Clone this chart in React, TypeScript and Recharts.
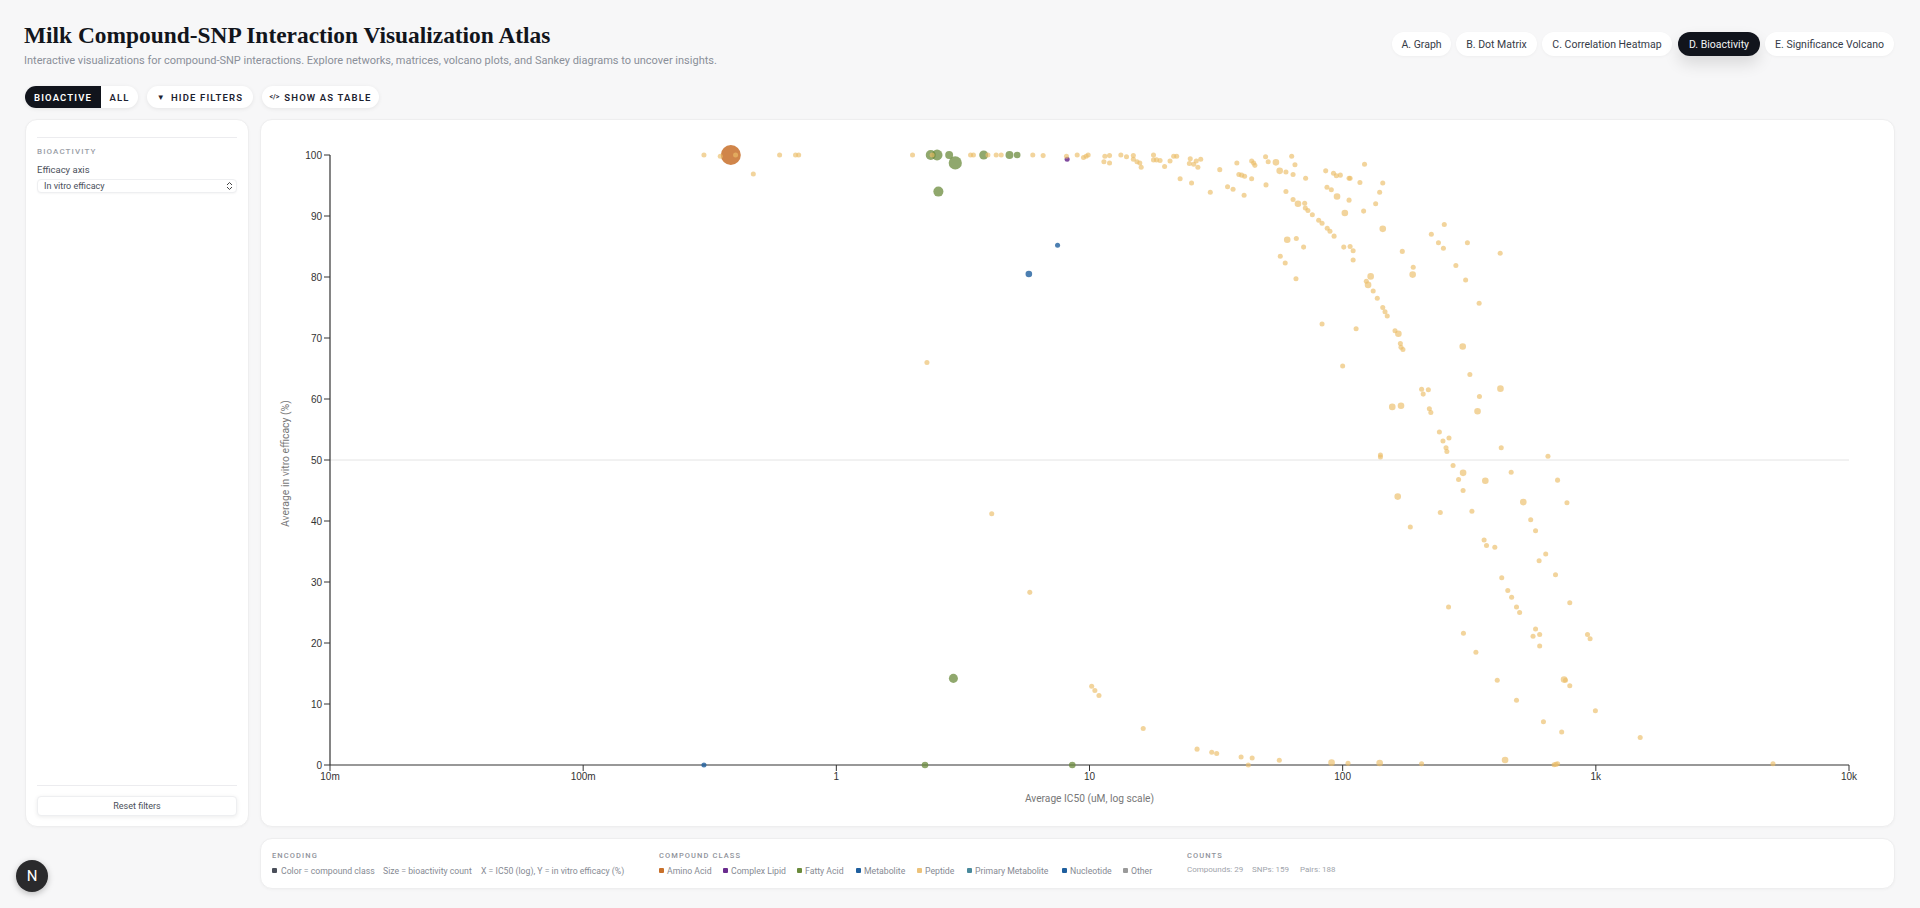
import { CSSProperties } from "react";
import {
  ScatterChart,
  Scatter,
  XAxis,
  YAxis,
  ZAxis,
  ReferenceLine,
} from "recharts";

const UI = "'Roboto', 'Noto Sans', sans-serif";

// [IC50 uM, in vitro efficacy %, bioactivity count]
const aminoAcidPoints = [[0.383, 100, 21]];
const complexLipidPoints = [[8.16, 99.3, 1]];
const fattyAcidPoints = [
  [2.36, 100, 5],
  [2.5, 100, 6],
  [2.79, 100, 3],
  [2.95, 98.7, 9],
  [2.53, 94, 5],
  [3.82, 100, 4],
  [4.83, 100, 3],
  [5.18, 100, 2],
  [2.9, 14.2, 4],
  [2.24, 0, 2],
  [8.55, 0, 2],
];
const metabolitePoints = [
  [5.76, 80.5, 2],
  [7.48, 85.2, 1],
];
const nucleotidePoints = [[0.3, 0, 1]];
const peptidePoints = [
  [0.3, 100, 1], [0.348, 99.8, 1], [0.4, 100, 1], [0.47, 96.9, 1], [0.597, 100, 1],
  [0.69, 100, 1], [0.71, 100, 1], [2.0, 100, 1], [2.39, 100, 1], [3.39, 100, 1],
  [3.48, 100, 1], [3.97, 100, 1], [4.28, 100, 1], [4.48, 100, 1], [5.97, 100, 1],
  [6.56, 99.9, 1], [8.11, 99.8, 1], [8.94, 100, 1], [9.47, 99.6, 1], [9.7, 99.8, 1],
  [9.88, 100, 1], [11.5, 99.8, 1], [12, 99.9, 1], [11.4, 98.9, 1], [12, 98.7, 1],
  [13.3, 100, 1], [14, 99.7, 1], [14.9, 99.9, 1], [14.9, 99.3, 1], [15.4, 98.9, 1],
  [15.8, 98.7, 1], [16, 98, 1], [17.9, 100, 1], [17.9, 99.2, 1], [18.4, 99.2, 1],
  [19, 99.1, 1], [19.8, 98.1, 1], [20.8, 99, 1], [21.5, 99.8, 1], [22.1, 99.8, 1],
  [22.8, 96.1, 1], [25.3, 95.4, 1], [25, 99.4, 1], [24.8, 98.6, 1], [25.8, 98.5, 1],
  [26.4, 99, 1], [27.5, 99.3, 1], [26.8, 98, 1], [30, 93.9, 1], [32.7, 97.6, 1],
  [38.2, 98.7, 1], [35.1, 94.8, 1], [36.9, 94.4, 1], [40.8, 93.4, 1], [38.9, 96.8, 1],
  [39.9, 96.7, 1], [41, 96.5, 1], [43.7, 96.1, 1], [43.7, 99, 1], [44.5, 98.7, 1],
  [45, 98.3, 1], [49.6, 99.7, 1], [50.8, 98.9, 1], [54.5, 98.8, 2], [56.4, 97.4, 2],
  [59.7, 97.2, 1], [63.7, 96.8, 1], [62.9, 99.8, 1], [64.8, 98.4, 1], [71.4, 96.2, 1],
  [49.8, 95.1, 1], [59.7, 94, 1], [63.7, 92.7, 1], [66.6, 92, 2], [70.8, 92.1, 1],
  [71.2, 91.3, 1], [72.9, 90.9, 1], [75.9, 90.2, 1], [80.4, 89.3, 1], [82.9, 88.8, 1],
  [86.9, 88, 1], [89.1, 87.5, 1], [92.5, 86.7, 1], [85.7, 97.4, 1], [92, 97, 1],
  [94.4, 96.6, 1], [97.9, 96.7, 1], [106, 96.2, 1], [107, 96.2, 1], [122, 98.5, 1],
  [117, 95.5, 1], [86.7, 94.7, 1], [90.2, 94.3, 1], [95, 93.2, 2], [106, 92.6, 1],
  [102, 90.5, 2], [121, 90.8, 1], [135, 92, 1], [140, 93.9, 1], [144, 95.4, 1],
  [144, 87.9, 2], [60.4, 86.1, 2], [65.6, 86.3, 1], [70.1, 84.9, 1], [56.7, 83.4, 1],
  [59.3, 82.3, 1], [65.4, 79.7, 1], [101, 84.9, 1], [107, 85, 1], [110, 84.3, 1],
  [110, 82.8, 1], [129, 80.1, 2], [124, 79.3, 1], [126, 78.7, 2], [132, 77.7, 1],
  [137, 76.5, 1], [144, 75, 1], [147, 74.3, 1], [150, 73.6, 1], [172, 84.2, 1],
  [190, 81.6, 1], [189, 80.4, 2], [224, 87, 1], [252, 88.6, 1], [239, 85.6, 1],
  [250, 84.7, 1], [311, 85.6, 1], [419, 83.9, 1], [280, 81.9, 1], [306, 79.5, 1],
  [346, 75.7, 1], [82.9, 72.3, 1], [113, 71.5, 1], [161, 71.2, 1], [166, 70.7, 2],
  [169, 69.1, 1], [170, 68.5, 1], [173, 68.1, 1], [298, 68.6, 2], [100, 65.4, 1],
  [318, 64, 1], [420, 61.7, 2], [205, 61.6, 1], [218, 61.5, 1], [208, 60.8, 1],
  [347, 60.4, 1], [157, 58.7, 2], [170, 58.9, 2], [341, 58, 2], [220, 58.4, 1],
  [223, 57.8, 1], [241, 54.6, 1], [263, 53.6, 1], [249, 53.1, 1], [256, 52, 1],
  [258, 51.4, 1], [423, 52, 1], [141, 50.8, 1], [141, 50.5, 1], [647, 50.6, 1],
  [273, 49.1, 1], [299, 47.9, 2], [287, 46.8, 1], [463, 48, 1], [366, 46.6, 2],
  [706, 46.7, 1], [299, 45, 1], [165, 44, 2], [517, 43.1, 2], [769, 43, 1],
  [243, 41.4, 1], [324, 41.6, 1], [553, 40.2, 1], [578, 38.4, 1], [185, 39, 1],
  [362, 36.9, 1], [370, 36, 1], [399, 35.7, 1], [634, 34.6, 1], [597, 33.5, 1],
  [693, 31.2, 1], [425, 30.7, 1], [449, 28.6, 1], [465, 27.5, 1], [486, 25.9, 1],
  [500, 25, 1], [789, 26.6, 1], [262, 25.9, 1], [300, 21.6, 1], [336, 18.5, 1],
  [578, 22.3, 1], [565, 21.1, 1], [600, 21.4, 1], [600, 19.5, 1], [927, 21.4, 1],
  [949, 20.7, 1], [408, 13.9, 1], [749, 14, 2], [759, 13.9, 1], [789, 13, 1],
  [486, 10.6, 1], [996, 8.9, 1], [621, 7.1, 1], [733, 5.4, 1], [1497, 4.5, 1],
  [2.28, 66, 1], [4.11, 41.2, 1], [5.81, 28.3, 1], [10.2, 12.9, 1], [10.5, 12.2, 1],
  [10.9, 11.4, 1], [16.3, 6, 1], [26.6, 2.6, 1], [30.4, 2.1, 1], [31.8, 1.9, 1],
  [39.7, 1.3, 1], [42.4, 0, 1], [43.9, 1.15, 1], [56.2, 0.77, 1], [90.4, 0.38, 2],
  [105, 0.27, 1], [140, 0.33, 2], [205, 0.2, 1], [438, 0.82, 2], [684, 0.05, 1],
  [695, 0.1, 1], [706, 0.2, 1], [5010, 0.2, 1],
];

const xTicks = [0.01, 0.1, 1, 10, 100, 1000, 10000];
const xTickLabels = ["10m", "100m", "1", "10", "100", "1k", "10k"];
const yTicks = [0, 10, 20, 30, 40, 50, 60, 70, 80, 90, 100];

const classNames = ["Amino Acid", "Complex Lipid", "Fatty Acid", "Metabolite", "Peptide", "Primary Metabolite", "Nucleotide", "Other"];
const classColors = ["#c8702a", "#6a2c8e", "#6b8b3c", "#1f5f9e", "#ecc27a", "#4a8a9c", "#1f5f9e", "#9a9a9a"];
const classLegendX = [659, 723, 797, 856, 917, 967, 1062, 1123];
const tabNames = ["A. Graph", "B. Dot Matrix", "C. Correlation Heatmap", "D. Bioactivity", "E. Significance Volcano"];
const tabLefts = [1392, 1456, 1542, 1678, 1765];
const tabWidths = [59, 81, 130, 82, 129];

const toRows = (points: number[][]) => points.map(([ic50, efficacy, count]) => ({ ic50, efficacy, count }));

const box = (left: number, top: number, width: number, height: number, extra: CSSProperties = {}): CSSProperties => ({
  position: "absolute",
  left,
  top,
  width,
  height,
  boxSizing: "border-box",
  ...extra,
});

const panel: CSSProperties = {
  background: "#fff",
  border: "1px solid #eeeeef",
  borderRadius: 12,
  boxShadow: "0 1px 3px rgba(0,0,0,0.03)",
};

const pill: CSSProperties = {
  background: "#fff",
  borderRadius: 12,
  boxShadow: "0 1px 4px rgba(0,0,0,0.08)",
  display: "flex",
  alignItems: "center",
  justifyContent: "center",
  whiteSpace: "nowrap",
};

const label = (left: number, top: number, text: string, size: number, color: string, extra: CSSProperties = {}) => (
  <div style={{ position: "absolute", left, top, fontSize: size, lineHeight: "12px", color, whiteSpace: "nowrap", ...extra }}>{text}</div>
);

const caps: CSSProperties = { letterSpacing: 1.1, fontWeight: 500 };
const btnText: CSSProperties = { fontSize: 9.5, fontWeight: 600, letterSpacing: 1.15, color: "#1c2230" };

export default function App() {
  return (
    <div style={box(0, 0, 1920, 908, { background: "#f7f7f8", fontFamily: UI, overflow: "hidden" })}>
      <div style={{ position: "absolute", left: 24, top: 20, fontFamily: "'Liberation Serif', serif", fontWeight: 700, fontSize: 23.4, lineHeight: "30px", color: "#12151c", whiteSpace: "nowrap" }}>
        Milk Compound-SNP Interaction Visualization Atlas
      </div>
      {label(24, 55, "Interactive visualizations for compound-SNP interactions. Explore networks, matrices, volcano plots, and Sankey diagrams to uncover insights.", 11, "#8a8f99")}

      {tabNames.map((name, i) => (
        <div
          key={name}
          style={box(tabLefts[i], 32, tabWidths[i], 24, {
            ...pill,
            fontSize: 10.5,
            background: i === 3 ? "#11141c" : "#fff",
            color: i === 3 ? "#f2f3f5" : "#353b47",
            boxShadow: i === 3 ? "0 8px 16px rgba(0,0,0,0.12)" : "0 1px 3px rgba(0,0,0,0.04)",
          })}
        >
          {name}
        </div>
      ))}

      <div style={box(25, 86, 113, 22, { ...pill, overflow: "hidden", justifyContent: "flex-start" })}>
        <div style={{ ...btnText, width: 76, height: 22, background: "#11141c", color: "#fff", display: "flex", alignItems: "center", justifyContent: "center" }}>BIOACTIVE</div>
        <div style={{ ...btnText, width: 37, textAlign: "center" }}>ALL</div>
      </div>
      <div style={box(147, 86, 106, 22, { ...pill, ...btnText })}>
        <span style={{ fontSize: 8, marginRight: 5 }}>▼</span>HIDE FILTERS
      </div>
      <div style={box(262, 86, 117, 22, { ...pill, ...btnText })}>
        <span style={{ fontSize: 7, marginRight: 5, letterSpacing: 0 }}>&lt;/&gt;</span>SHOW AS TABLE
      </div>

      <div style={box(25, 119, 224, 708, panel)} />
      <div style={box(37, 137, 200, 1, { background: "#ececef" })} />
      {label(37, 146, "BIOACTIVITY", 8, "#9a9ea6", caps)}
      {label(37, 164, "Efficacy axis", 9.5, "#4a4f5a")}
      <div style={box(37, 179, 200, 14, { background: "#fff", border: "1px solid #eeeff1", borderRadius: 4, boxShadow: "0 1px 2px rgba(0,0,0,0.04)" })} />
      {label(44, 180, "In vitro efficacy", 9, "#4a4f5a")}
      <svg style={box(226, 181, 7, 10)} viewBox="0 0 7 10">
        <path d="M1 4 L3.5 1.5 L6 4 M1 6 L3.5 8.5 L6 6" fill="none" stroke="#444" strokeWidth={1} />
      </svg>
      <div style={box(37, 785, 200, 1, { background: "#ececef" })} />
      <div style={box(37, 796, 200, 20, { ...pill, borderRadius: 4, border: "1px solid #eeeff1", fontSize: 9, color: "#4a4f5a" })}>Reset filters</div>

      <div style={box(260, 119, 1635, 708, panel)} />
      <div style={{ position: "absolute", left: 260, top: 119 }}>
        <ScatterChart width={1635} height={708} margin={{ top: 36, right: 46, bottom: 22, left: 20 }}>
          <XAxis
            type="number"
            dataKey="ic50"
            scale="log"
            domain={[0.01, 10000]}
            ticks={xTicks}
            interval={0}
            height={40}
            tickSize={6}
            tickFormatter={(v: number) => xTickLabels[xTicks.indexOf(v)]}
            tick={{ fontSize: 10, fill: "#333", fontFamily: "'Liberation Sans', sans-serif" }}
            axisLine={{ stroke: "#333", strokeWidth: 1.2 }}
            tickLine={{ stroke: "#333" }}
            label={{ value: "Average IC50 (uM, log scale)", position: "bottom", offset: -10, fontSize: 10.2, fill: "#777", fontFamily: UI }}
          />
          <YAxis
            type="number"
            dataKey="efficacy"
            domain={[0, 100]}
            ticks={yTicks}
            interval={0}
            width={50}
            tickSize={6}
            tick={{ fontSize: 10, fill: "#333", fontFamily: "'Liberation Sans', sans-serif" }}
            axisLine={{ stroke: "#333", strokeWidth: 1.2 }}
            tickLine={{ stroke: "#333" }}
            label={{ value: "Average in vitro efficacy (%)", angle: -90, position: "insideLeft", offset: 5, dy: 67, fontSize: 10.4, fill: "#777", fontFamily: UI }}
          />
          <ZAxis type="number" dataKey="count" domain={[1, 21]} range={[20, 314]} />
          <ReferenceLine y={50} stroke="#e4e4e4" />
          <Scatter data={toRows(aminoAcidPoints)} fill={classColors[0]} fillOpacity={0.85} isAnimationActive={false} />
          <Scatter data={toRows(complexLipidPoints)} fill={classColors[1]} fillOpacity={0.85} isAnimationActive={false} />
          <Scatter data={toRows(fattyAcidPoints)} fill={classColors[2]} fillOpacity={0.75} isAnimationActive={false} />
          <Scatter data={toRows(metabolitePoints)} fill={classColors[3]} fillOpacity={0.8} isAnimationActive={false} />
          <Scatter data={toRows(nucleotidePoints)} fill={classColors[6]} fillOpacity={0.8} isAnimationActive={false} />
          <Scatter data={toRows(peptidePoints)} fill="#ebbd68" fillOpacity={0.66} isAnimationActive={false} />
        </ScatterChart>
      </div>

      <div style={box(260, 838, 1635, 51, panel)} />
      {label(272, 850, "ENCODING", 7.5, "#8f939b", caps)}
      <div style={box(272, 868, 5, 5, { background: "#4a4f5a", borderRadius: 1 })} />
      {label(281, 865, "Color = compound class", 8.7, "#868a93")}
      {label(383, 865, "Size = bioactivity count", 8.7, "#868a93")}
      {label(481, 865, "X = IC50 (log), Y = in vitro efficacy (%)", 8.7, "#868a93")}
      {label(659, 850, "COMPOUND CLASS", 7.5, "#8f939b", caps)}
      {classNames.map((name, i) => (
        <div key={name}>
          <div style={box(classLegendX[i], 868, 5, 5, { background: classColors[i], borderRadius: 1 })} />
          {label(classLegendX[i] + 8, 865, name, 8.7, "#868a93")}
        </div>
      ))}
      {label(1187, 850, "COUNTS", 7.5, "#8f939b", caps)}
      {label(1187, 864, "Compounds: 29", 8, "#a0a4ab")}
      {label(1252, 864, "SNPs: 159", 8, "#a0a4ab")}
      {label(1300, 864, "Pairs: 188", 8, "#a0a4ab")}

      <div style={box(16, 860, 32, 32, { background: "#2a2a2c", borderRadius: 16, color: "#fff", fontSize: 15, display: "flex", alignItems: "center", justifyContent: "center", boxShadow: "0 2px 6px rgba(0,0,0,0.25)" })}>N</div>
    </div>
  );
}
